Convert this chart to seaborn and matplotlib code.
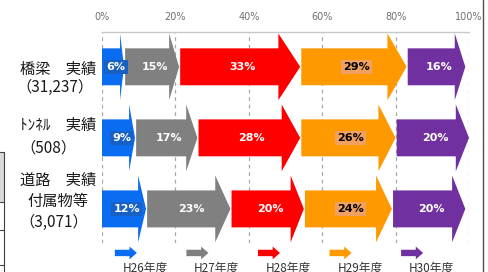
import matplotlib
matplotlib.use('Agg')
import matplotlib.pyplot as plt
from matplotlib.patches import Polygon, Rectangle
from matplotlib.lines import Line2D
import seaborn as sns

# データ
row_lines = [['橋梁　実績', '（31,237）'],
             ['ﾄﾝﾈﾙ　実績', '（508）'],
             ['道路　実績', '付属物等', '（3,071）']]
years = ['H26年度', 'H27年度', 'H28年度', 'H29年度', 'H30年度']
kyoryo = [6, 15, 33, 29, 16]
tonneru = [9, 17, 28, 26, 20]
doro = [12, 23, 20, 24, 20]
ticks = [0, 20, 40, 60, 80, 100]

shares = [kyoryo, tonneru, doro]
colors = ['#0a6cf0', '#808080', '#ff0000', '#ff9900', '#7030a0']
box_colors = ['#1760c4', None, None, '#f0a060', None]
text_colors = ['white', 'white', 'white', 'black', 'white']

sns.set_theme(style='white')
plt.rcParams['font.family'] = ['Noto Sans CJK JP', 'DejaVu Sans']

fig = plt.figure(figsize=(4.88, 2.72), dpi=100)
ax = fig.add_axes([102 / 488, 1 - 243 / 272, 367 / 488, 211 / 272])
ax.set_xlim(0, 100)
ax.set_ylim(2.48, -0.49)


def arrow(x0, x1, y, body, head, head_len, color, z=3):
    hx = x1 - head_len
    pts = [(x0, y - body), (hx, y - body), (hx, y - head), (x1, y),
           (hx, y + head), (hx, y + body), (x0, y + body)]
    ax.add_patch(Polygon(pts, closed=True, fc=color, ec='none', zorder=z,
                         clip_on=False))


# グリッド
for t in ticks:
    ax.axvline(t, color='#a8a8a8', lw=0.9, ls=(0, (3, 3)), zorder=1)

for r, vals in enumerate(shares):
    start = 0
    for i, v in enumerate(vals):
        x0 = start + (0.3 if i > 0 else 0)
        x1 = start + v
        arrow(x0, x1, r, 0.26, 0.47, 0.18 * v, colors[i], z=3 + i)
        bb = None
        if box_colors[i]:
            bb = dict(boxstyle='square,pad=0.2', fc=box_colors[i], ec='none')
        ax.text((start + x1) / 2 + 0.8, r, f'{v}%', ha='center', va='center',
                fontsize=8, fontweight='bold', color=text_colors[i], bbox=bb,
                family=['Liberation Sans Narrow', 'DejaVu Sans'], zorder=10)
        start = x1

# 左側のラベル（位置は行ごとに調整）
label_pos = [[(-1.6, 0.03, 'right'), (-12.8, 0.29, 'center')],
             [(-1.6, -0.17, 'right'), (-14.7, 0.14, 'center')],
             [(-1.6, -0.40, 'right'), (-12.0, -0.11, 'center'),
              (-13.2, 0.19, 'center')]]
for r, lines in enumerate(row_lines):
    for s, (lx, dy, ha) in zip(lines, label_pos[r]):
        ax.text(lx, r + dy, s, ha=ha, va='center', fontsize=11,
                color='#1a1a1a')

# 凡例
for i, y in enumerate(years):
    lx = 3.5 + 19.5 * i
    arrow(lx, lx + 6, 2.62, 0.045, 0.09, 2.0, colors[i])
    ax.text(lx + 8.3, 2.84, y, ha='center', va='center', fontsize=8.5,
            color='#333333', clip_on=False)

# 軸
ax.xaxis.tick_top()
ax.set_xticks(ticks)
ax.set_xticklabels([f'{t}%' for t in ticks], fontsize=7, color='#707070',
                   family=['Liberation Sans Narrow', 'DejaVu Sans'])
ax.tick_params(axis='x', length=0, pad=7)
ax.set_yticks([])
for side in ['left', 'right', 'bottom']:
    ax.spines[side].set_visible(False)
ax.spines['top'].set_color('#c8c8c8')
ax.spines['top'].set_linewidth(1)
ax.grid(False)

# 周りの枠線
fig.add_artist(Line2D([483 / 488] * 2, [0, 1], color='#505050', lw=1))
fig.add_artist(Rectangle((0, 1 - 202 / 272), 4 / 488, 50 / 272,
                         fc='#d9d9d9', ec='none'))
for yy in [152, 202, 230, 265]:
    fig.add_artist(Line2D([0, 4 / 488], [1 - yy / 272] * 2, color='#404040',
                          lw=0.8))
fig.add_artist(Line2D([4 / 488] * 2, [0, 1 - 152 / 272], color='#404040',
                      lw=0.8))

fig.savefig('out.png', dpi=100)
